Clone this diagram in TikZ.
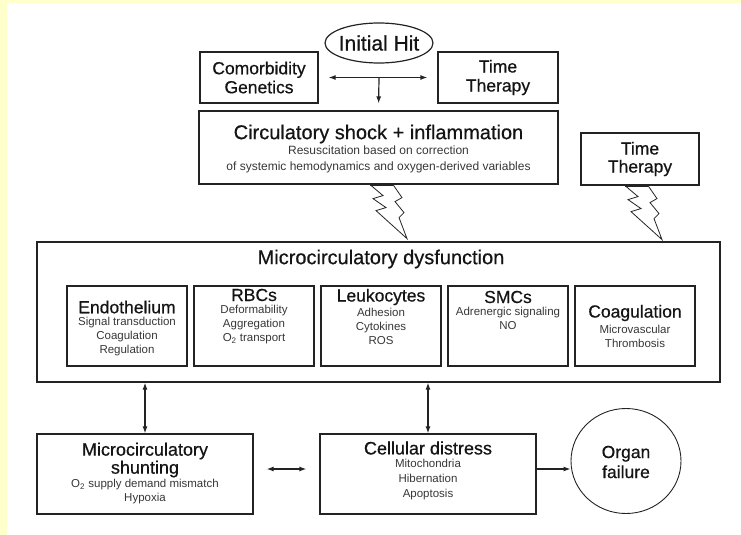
\documentclass[tikz,border=0pt]{standalone}
\usepackage{fontspec}
\setmainfont{Liberation Sans}
\newfontfamily\ttlfont{Liberation Sans}[FakeBold=0.6]
\usetikzlibrary{arrows.meta,shapes.geometric}
\definecolor{bgyellow}{RGB}{255,255,204}
\definecolor{linec}{RGB}{35,35,35}
\definecolor{subc}{RGB}{55,55,55}
\tikzset{
  box/.style={draw=linec, line width=1.2pt, inner sep=0pt},
  ttl/.style={font=\ttlfont\fontsize{17.5}{19}\selectfont, align=center, text=black!92, inner sep=0pt},
  bigttl/.style={font=\ttlfont\fontsize{20}{22}\selectfont, align=center, text=black!92, inner sep=0pt},
  subtxt/.style={font=\fontsize{11.5}{14}\selectfont, align=center, text=subc, inner sep=0pt},
  arr/.style={draw=linec, line width=1.2pt, -{Latex[length=7pt,width=5pt]}},
  dbl/.style={draw=linec, line width=1.2pt, {Latex[length=7pt,width=5pt]}-{Latex[length=7pt,width=5pt]}},
  boltpic/.pic={
    \draw[linec, line width=0.8pt, line join=miter]
      (0,0) -- (13,11) -- (3,14) -- (16,23) -- (6,26) -- (37,54)
      -- (29,33) -- (34,28) -- (25,17) -- (32,13) -- (23,0);
    \draw[linec, line width=2.4pt] (0,0) -- (23,0);
  }
}
\begin{document}
\begin{tikzpicture}[x=1pt,y=-1pt]
\useasboundingbox (0,0) rectangle (741,535);
\fill[bgyellow] (0,0) rectangle (7,535);
\fill[bgyellow] (0,0) rectangle (741,3);

% top part
\node[box, ellipse, minimum width=108pt, minimum height=40pt] (ihit) at (379,43) {};
\node[font=\ttlfont\fontsize{21}{23}\selectfont, text=black!92, inner sep=0pt] (ihittxt) at (ihit.center) {Initial Hit};

\node[box, ttl, minimum width=118pt, minimum height=51pt] (como) at (259,77.5) {Comorbidity\\Genetics};
\node[box, ttl, minimum width=120pt, minimum height=51pt] (timeA) at (498,77.5) {Time\\Therapy};

\node[box, minimum width=359pt, minimum height=73pt] (circ) at (378.5,147.5) {};
\node[bigttl] (circttl) at (378.5,134) {Circulatory shock + inflammation};
\node[subtxt, font=\fontsize{12}{16}\selectfont] (circsub) at (378.5,159.5) {Resuscitation based on correction\\of systemic hemodynamics and oxygen-derived variables};

\node[box, ttl, font=\ttlfont\fontsize{17.5}{18}\selectfont, minimum width=118pt, minimum height=52pt] (timeB) at (640,159) {Time\\Therapy};

\coordinate (junc) at (ihit.south |- como.east);
\draw[dbl, shorten <=10pt, shorten >=10pt] (como.east) -- (timeA.west);
\draw[arr, shorten >=7pt] (junc) -- (circ.north);

% outer box
\node[box, minimum width=683pt, minimum height=140pt] (outer) at (378.5,312) {};
\node[bigttl] (outerttl) at (381,259) {Microcirculatory dysfunction};

% lightning bolts
\pic at ([xshift=-8.5pt]circ.south) {boltpic};
\pic at ([xshift=-15pt]timeB.south) {boltpic};

% inner boxes
\node[box, minimum width=120pt, minimum height=80pt] (endo) at (127,326) {};
\node[box, minimum width=120pt, minimum height=80pt] (rbc) at (254,326) {};
\node[box, minimum width=120pt, minimum height=80pt] (leuk) at (381,326) {};
\node[box, minimum width=120pt, minimum height=80pt] (smc) at (508,326) {};
\node[box, minimum width=120pt, minimum height=80pt] (coag) at (635,326) {};

\node[ttl] (endottl) at (127,307) {Endothelium};
\node[subtxt] (endosub) at (127,337) {Signal transduction\\Coagulation\\Regulation};
\node[ttl] (rbcttl) at (254,295) {RBCs};
\node[subtxt] (rbcsub) at (254,325) {Deformability\\Aggregation\\O\textsubscript{2} transport};
\node[ttl] (leukttl) at (381,297) {Leukocytes};
\node[subtxt] (leuksub) at (381,326) {Adhesion\\Cytokines\\ROS};
\node[ttl] (smcttl) at (508,297) {SMCs};
\node[subtxt] (smcsub) at (508,318.5) {Adrenergic signaling\\NO};
\node[ttl] (coagttl) at (635,313) {Coagulation};
\node[subtxt] (coagsub) at (635,336) {Microvascular\\Thrombosis};

% lower part
\node[box, minimum width=216pt, minimum height=80pt] (shunt) at (145,474) {};
\node[ttl, font=\ttlfont\fontsize{18}{18}\selectfont] (shuntttl) at (145,460) {Microcirculatory\\shunting};
\node[subtxt] (shuntsub) at (145,492) {O\textsubscript{2} supply demand mismatch\\Hypoxia};

\node[box, minimum width=216pt, minimum height=80pt] (cell) at (428,474) {};
\node[ttl, font=\ttlfont\fontsize{18}{19}\selectfont] (cellttl) at (428,448) {Cellular distress};
\node[subtxt, font=\fontsize{11.5}{15}\selectfont] (cellsub) at (428,480) {Mitochondria\\Hibernation\\Apoptosis};

\node[draw=linec, line width=0.9pt, ellipse, minimum width=110pt, minimum height=105pt, inner sep=0pt] (organ) at (626,461) {};
\node[ttl, font=\ttlfont\fontsize{17.5}{20}\selectfont] (organttl) at (626,462) {Organ\\failure};

\draw[dbl] (outer.south -| shunt.north) -- (shunt.north);
\draw[dbl] (outer.south -| cell.north) -- (cell.north);
\draw[dbl, shorten <=13pt, shorten >=13pt] ([yshift=5pt]shunt.east) -- ([yshift=5pt]cell.west);
\draw[arr] ([yshift=5pt]cell.east) -- ([yshift=5pt]cell.east -| organ.west);
\end{tikzpicture}
\end{document}
